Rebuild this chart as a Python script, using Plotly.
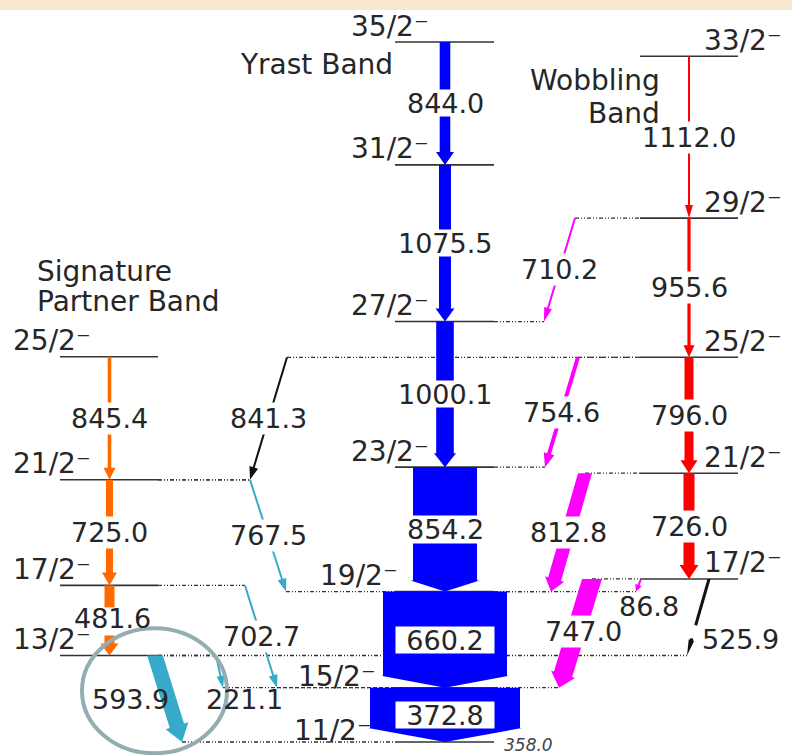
import math
import plotly.graph_objects as go

# ---------------- level scheme data ----------------
# level energies in keV, measured from the 11/2- bandhead
yrast_spins = ["11/2⁻", "15/2⁻", "19/2⁻", "23/2⁻", "27/2⁻", "31/2⁻", "35/2⁻"]
yrast_energies = [0.0, 372.8, 1033.0, 1887.2, 2887.3, 3962.8, 4806.8]

wobbling_spins = ["17/2⁻", "21/2⁻", "25/2⁻", "29/2⁻", "33/2⁻"]
wobbling_energies = [1119.8, 1845.8, 2641.8, 3597.4, 4709.4]

partner_spins = ["13/2⁻", "17/2⁻", "21/2⁻", "25/2⁻"]
partner_energies = [593.9, 1075.5, 1800.5, 2645.9]

bandhead_energy = "358.0"

# gamma transitions: energy label, initial level, final level
gamma_energies = ["844.0", "1075.5", "1000.1", "854.2", "660.2", "372.8",
                  "1112.0", "955.6", "796.0", "726.0",
                  "845.4", "725.0", "481.6",
                  "710.2", "754.6", "812.8", "747.0", "86.8",
                  "525.9", "841.3",
                  "593.9", "221.1", "702.7", "767.5"]
gamma_initial = [("Y", "35/2⁻"), ("Y", "31/2⁻"), ("Y", "27/2⁻"), ("Y", "23/2⁻"), ("Y", "19/2⁻"), ("Y", "15/2⁻"),
                 ("W", "33/2⁻"), ("W", "29/2⁻"), ("W", "25/2⁻"), ("W", "21/2⁻"),
                 ("S", "25/2⁻"), ("S", "21/2⁻"), ("S", "17/2⁻"),
                 ("W", "29/2⁻"), ("W", "25/2⁻"), ("W", "21/2⁻"), ("W", "17/2⁻"), ("W", "17/2⁻"),
                 ("W", "17/2⁻"), ("W", "25/2⁻"),
                 ("S", "13/2⁻"), ("S", "13/2⁻"), ("S", "17/2⁻"), ("S", "21/2⁻")]
gamma_final = [("Y", "31/2⁻"), ("Y", "27/2⁻"), ("Y", "23/2⁻"), ("Y", "19/2⁻"), ("Y", "15/2⁻"), ("Y", "11/2⁻"),
               ("W", "29/2⁻"), ("W", "25/2⁻"), ("W", "21/2⁻"), ("W", "17/2⁻"),
               ("S", "21/2⁻"), ("S", "17/2⁻"), ("S", "13/2⁻"),
               ("Y", "27/2⁻"), ("Y", "23/2⁻"), ("Y", "19/2⁻"), ("Y", "15/2⁻"), ("Y", "19/2⁻"),
               ("S", "13/2⁻"), ("S", "21/2⁻"),
               ("Y", "11/2⁻"), ("Y", "15/2⁻"), ("Y", "15/2⁻"), ("Y", "19/2⁻")]

band_names = {"Y": ["Yrast Band"], "W": ["Wobbling", "Band"], "S": ["Signature", "Partner Band"]}

# ---------------- drawing layout ----------------
W_PX, H_PX = 792, 755
SCALE = 700 / 4806.8      # px per keV
BASE_PX = 742             # screen row of the bandhead


def row(e):
    return BASE_PX - SCALE * e


def energy(r):
    return (BASE_PX - r) / SCALE


levels = {
    "Y": dict(zip(yrast_spins, yrast_energies)),
    "W": dict(zip(wobbling_spins, wobbling_energies)),
    "S": dict(zip(partner_spins, partner_energies)),
}
band_span = {"Y": (395, 494), "W": (640, 738), "S": (60, 158)}
band_center = {"Y": 445, "W": 689, "S": 109.5}

# spin-label placement: right edge and height above the level line
spin_right = {"Y": 431, "W": 784, "S": 93}
spin_right_special = {("Y", "19/2⁻"): 400, ("Y", "15/2⁻"): 378, ("Y", "11/2⁻"): 374}
spin_lift = 16
spin_lift_special = {("Y", "15/2⁻"): 11, ("Y", "11/2⁻"): 12}

BLUE, RED, ORANGE = "#0000ff", "#ff0000", "#ff6a00"
MAGENTA, CYAN, BLACK = "#ff00ff", "#38aac9", "#111111"
TEXT = "#262626"
FONT = "DejaVu Sans"
GAMMA_SIZE, SPIN_SIZE, TITLE_SIZE = 27, 28, 28

arrow_style = {
    "844.0": dict(c=BLUE, w=5.3, h=9, L=13, lh=26),
    "1075.5": dict(c=BLUE, w=6, h=9.5, L=13, lh=26),
    "1000.1": dict(c=BLUE, w=8.8, h=11, L=14, lh=26),
    "854.2": dict(c=BLUE, w=32, h=34.5, L=11, lh=27),
    "660.2": dict(c=BLUE, w=62, h=64, L=12, box=(98, 26)),
    "372.8": dict(c=BLUE, w=75, h=77, L=14, box=(98, 26)),
    "1112.0": dict(c=RED, w=1, h=4, L=13),
    "955.6": dict(c=RED, w=1.6, h=5.5, L=12),
    "796.0": dict(c=RED, w=4.5, h=8.5, L=13),
    "726.0": dict(c=RED, w=5.5, h=9.5, L=14),
    "845.4": dict(c=ORANGE, w=1.8, h=6, L=12),
    "725.0": dict(c=ORANGE, w=3.5, h=7.5, L=13),
    "481.6": dict(c=ORANGE, w=5, h=9, L=12, d=(3, -2), bg=False, gaps=[(0.314, 0.714)]),
    "710.2": dict(c=MAGENTA, x=(575, 544), w=1, h=4, L=14),
    "754.6": dict(c=MAGENTA, x=(578, 545), w=2, h=5.5, L=14),
    "812.8": dict(c=MAGENTA, x=(585, 551), w=6.7, h=10, L=13),
    "747.0": dict(c=MAGENTA, x=(592, 559), w=9.5, h=12.5, L=14, d=(7.5, -1.5)),
    "86.8": dict(c=MAGENTA, x=(641, 636), w=1, h=3.5, L=7, d=(10.5, 21), bg=False),
    "525.9": dict(c=BLACK, x=(709, 687), w=1.5, h=2.8, L=16, d=(42, 22), bg=False,
                  gaps=[(0.605, 0.776)]),
    "841.3": dict(c=BLACK, x=(287, 250), w=1, h=4.5, L=13),
    "593.9": dict(c=CYAN, x=(155, 182), w=7.5, h=12, L=17, d=(-38.5, 0.5), bg=False),
    "221.1": dict(c=CYAN, x=(216, 223), w=1, h=4, L=12, d=(24.5, 27.5), bg=False),
    "702.7": dict(c=CYAN, x=(245, 277), w=1, h=4.5, L=13),
    "767.5": dict(c=CYAN, x=(250, 286), w=1, h=4.5, L=13),
}

# ring that highlights one transition
highlight = dict(target="593.9", dx=-14, dy=-8, rx=72.5, ry=62.5, color="#93adb1", width=4)


def path_str(pts):
    return "M " + " L ".join(f"{x:.2f},{energy(y):.3f}" for x, y in pts) + " Z"


def arrow_paths(xs, ys, xe, ye, w, h, L, gaps=()):
    """Filled arrow polygons in screen space; the tail is cut flat on its level."""
    dx, dy = xe - xs, ye - ys
    ln = math.hypot(dx, dy)
    ux, uy = dx / ln, dy / ln
    nx, ny = -uy, ux
    t_base = 1 - L / ln

    def side(t, off):
        return (xs + dx * t + nx * off, ys + dy * t + ny * off)

    def flat(off):
        s = -ny * off / uy
        return (xs + nx * off + ux * s, ys)

    cuts = [0.0]
    for g0, g1 in gaps:
        cuts += [g0, g1]
    cuts.append(t_base)
    out = []
    for i in range(0, len(cuts), 2):
        t0, t1 = cuts[i], cuts[i + 1]
        a0 = flat(w) if t0 == 0 else side(t0, w)
        b0 = flat(-w) if t0 == 0 else side(t0, -w)
        a1, b1 = side(t1, w), side(t1, -w)
        if i + 2 >= len(cuts):
            out.append([a0, a1, side(t_base, h), (xe, ye), side(t_base, -h), b1, b0])
        else:
            out.append([a0, a1, b1, b0])
    return out


shapes = []
annotations = []

# paper tint along the top edge
shapes.append(dict(type="rect", xref="paper", yref="paper", x0=0, x1=1,
                   y0=1 - 10 / H_PX, y1=1, fillcolor="#f6e9d0", line=dict(width=0), layer="below"))

# transition geometry on screen
geom = []
for g, (bi, si), (bf, sf) in zip(gamma_energies, gamma_initial, gamma_final):
    st = arrow_style[g]
    if "x" in st:
        xs, xe = st["x"]
    else:
        xs = xe = band_center[bi]
    geom.append((g, bi, si, bf, sf, xs, row(levels[bi][si]), xe, row(levels[bf][sf])))

# dotted connectors from the level lines out to the inter-band arrows
DOT = dict(color="#333333", width=1.3, dash="4px,2px,1px,2px,1px,2px")
for g, bi, si, bf, sf, xs, ys, xe, ye in geom:
    for b, s, xp in ((bi, si, xs), (bf, sf, xe)):
        lo, hi = band_span[b]
        if xp < lo or xp > hi:
            x0, x1 = (xp, lo) if xp < lo else (hi, xp)
            e = levels[b][s]
            shapes.append(dict(type="line", xref="x", yref="y", x0=x0, x1=x1, y0=e, y1=e, line=DOT))

# level lines
for b, lv in levels.items():
    lo, hi = band_span[b]
    for s, e in lv.items():
        shapes.append(dict(type="line", xref="x", yref="y", x0=lo, x1=hi, y0=e, y1=e,
                           line=dict(color="#333333", width=1.6)))

# arrows
for g, bi, si, bf, sf, xs, ys, xe, ye in geom:
    st = arrow_style[g]
    for pts in arrow_paths(xs, ys, xe, ye, st["w"], st["h"], st["L"], st.get("gaps", ())):
        shapes.append(dict(type="path", xref="x", yref="y", path=path_str(pts),
                           fillcolor=st["c"], line=dict(width=0)))

# highlight ring
for g, bi, si, bf, sf, xs, ys, xe, ye in geom:
    if g == highlight["target"]:
        cx = (xs + xe) / 2 + highlight["dx"]
        cy = (ys + ye) / 2 + highlight["dy"]
        shapes.append(dict(type="circle", xref="x", yref="y",
                           x0=cx - highlight["rx"], x1=cx + highlight["rx"],
                           y0=energy(cy + highlight["ry"]), y1=energy(cy - highlight["ry"]),
                           line=dict(color=highlight["color"], width=highlight["width"])))

# gamma-energy labels
for g, bi, si, bf, sf, xs, ys, xe, ye in geom:
    st = arrow_style[g]
    ddx, ddy = st.get("d", (0, 0))
    ann = dict(x=(xs + xe) / 2 + ddx, y=energy((ys + ye) / 2 + ddy), xref="x", yref="y",
               text=g, showarrow=False, xanchor="center", yanchor="middle",
               font=dict(family=FONT, size=GAMMA_SIZE, color=TEXT), borderpad=0)
    if st.get("bg", True):
        ann["bgcolor"] = "white"
    if "box" in st:
        ann["width"], ann["height"] = st["box"]
    elif "lh" in st:
        ann["height"] = st["lh"]
    annotations.append(ann)

# spin labels
for b, lv in levels.items():
    for s, e in lv.items():
        xr = spin_right_special.get((b, s), spin_right[b])
        lift = spin_lift_special.get((b, s), spin_lift)
        annotations.append(dict(x=xr, y=energy(row(e) - lift), xref="x", yref="y", text=s,
                                showarrow=False, xanchor="right", yanchor="middle",
                                font=dict(family=FONT, size=SPIN_SIZE, color=TEXT)))

# bandhead excitation energy
annotations.append(dict(x=band_span["Y"][1] + 8, y=energy(BASE_PX + 3), xref="x", yref="y",
                        text=f"<i>{bandhead_energy}</i>", showarrow=False,
                        xanchor="left", yanchor="middle",
                        font=dict(family=FONT, size=17, color="#444444")))

# band titles
title_pos = {
    "Y": [(316, 64, "center")],
    "W": [(662, 80, "right"), (662, 113, "right")],
    "S": [(35, 271, "left"), (35, 301, "left")],
}
for b, lines in band_names.items():
    for text, (tx, ty, anc) in zip(lines, title_pos[b]):
        annotations.append(dict(x=tx, y=energy(ty), xref="x", yref="y", text=text,
                                showarrow=False, xanchor=anc, yanchor="middle",
                                font=dict(family=FONT, size=TITLE_SIZE, color=TEXT)))

fig = go.Figure()
fig.update_layout(
    width=W_PX, height=H_PX,
    margin=dict(l=0, r=0, t=0, b=0),
    paper_bgcolor="white", plot_bgcolor="white",
    xaxis=dict(range=[0, W_PX], visible=False, showgrid=False, zeroline=False, fixedrange=True),
    yaxis=dict(range=[energy(H_PX), energy(0)], visible=False, showgrid=False, zeroline=False,
               fixedrange=True),
    shapes=shapes, annotations=annotations, showlegend=False,
)
fig.write_html("out.html")
